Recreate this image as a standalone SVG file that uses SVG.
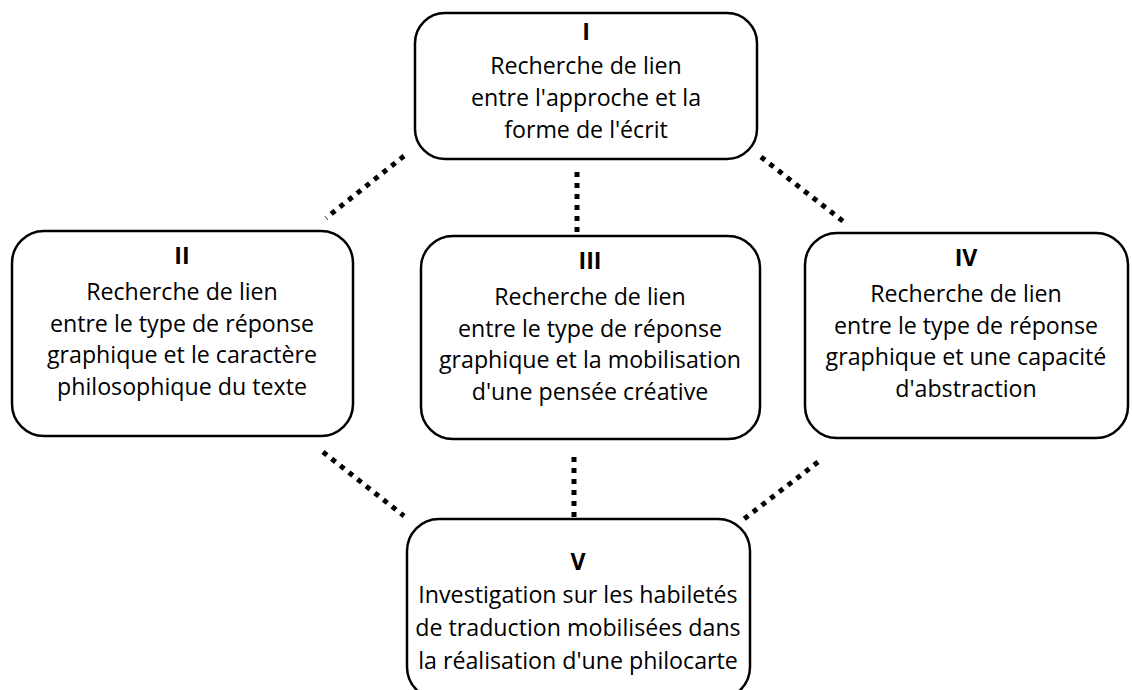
<svg xmlns="http://www.w3.org/2000/svg" width="1132" height="690" viewBox="0 0 1132 690">
<style>
.box{fill:#fff;stroke:#000;stroke-width:2.5}
.t{font-family:"Open Sans","Liberation Sans",sans-serif;font-size:23.2px;fill:#000;text-anchor:middle}
.b{font-weight:bold}
.dot{stroke:#000;stroke-width:5;stroke-dasharray:5 6;fill:none}
</style>
<rect width="1132" height="690" fill="#fff"/>
<g id="connectors">
<line class="dot" x1="404" y1="156" x2="326" y2="218"/>
<line class="dot" x1="577" y1="172" x2="577" y2="234"/>
<line class="dot" x1="761" y1="157" x2="844" y2="222"/>
<line class="dot" x1="323" y1="452" x2="404" y2="516"/>
<line class="dot" x1="574" y1="457" x2="574" y2="517"/>
<line class="dot" x1="818" y1="462" x2="740" y2="522"/>
</g>
<g id="node1">
<rect class="box" x="415" y="13" width="342" height="146" rx="30"/>
<text class="t b" x="586" y="40">I</text>
<text class="t" x="586" y="74">Recherche de lien</text>
<text class="t" x="586" y="106">entre l'approche et la</text>
<text class="t" x="586" y="138">forme de l'écrit</text>
</g>
<g id="node2">
<rect class="box" x="12" y="231" width="341" height="205" rx="32"/>
<text class="t b" x="182" y="264">II</text>
<text class="t" x="182" y="300">Recherche de lien</text>
<text class="t" x="182" y="331.7">entre le type de réponse</text>
<text class="t" x="182" y="363.4">graphique et le caractère</text>
<text class="t" x="182" y="395">philosophique du texte</text>
</g>
<g id="node3">
<rect class="box" x="421" y="236" width="339" height="203" rx="32"/>
<text class="t b" x="590" y="269">III</text>
<text class="t" x="590" y="305">Recherche de lien</text>
<text class="t" x="590" y="336.7">entre le type de réponse</text>
<text class="t" x="590" y="368.4">graphique et la mobilisation</text>
<text class="t" x="590" y="400">d'une pensée créative</text>
</g>
<g id="node4">
<rect class="box" x="805" y="233" width="323" height="205" rx="32"/>
<text class="t b" x="966" y="266">IV</text>
<text class="t" x="966" y="302">Recherche de lien</text>
<text class="t" x="966" y="333.7">entre le type de réponse</text>
<text class="t" x="966" y="365.4">graphique et une capacité</text>
<text class="t" x="966" y="397">d'abstraction</text>
</g>
<g id="node5">
<rect class="box" x="407" y="519" width="343" height="180" rx="32"/>
<text class="t b" x="578" y="570">V</text>
<text class="t" x="578" y="603">Investigation sur les habiletés</text>
<text class="t" x="578" y="636">de traduction mobilisées dans</text>
<text class="t" x="578" y="669">la réalisation d'une philocarte</text>
</g>
</svg>
